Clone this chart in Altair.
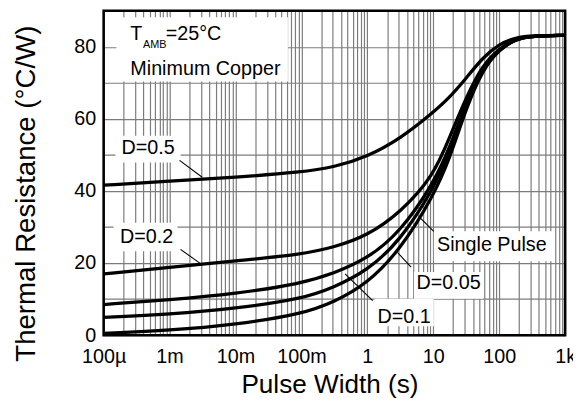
import json
import altair as alt
import pandas as pd

# ---------------- data ----------------
PULSE_WIDTH = [1e-4, 1e-3, 1e-2, 0.1, 0.316, 1, 3.16, 10, 17.8, 31.6, 56.2, 100, 178, 316, 1000]
R_D05 = [41.6, 42.7, 43.8, 45.2, 46.6, 49.5, 54.5, 61.8, 66.0, 71.3, 77.0, 80.8, 82.6, 83.1, 83.2]
R_D02 = [17.0, 18.8, 20.6, 22.4, 24.4, 27.6, 34.0, 44.0, 55.0, 66.0, 75.0, 79.6, 82.2, 83.0, 83.2]
R_D01 = [8.5, 9.8, 11.5, 14.3, 17.2, 21.2, 28.6, 42.0, 52.0, 64.5, 74.3, 79.4, 82.2, 83.0, 83.2]
R_D005 = [4.9, 5.8, 7.4, 10.0, 13.3, 17.9, 26.2, 40.5, 50.5, 63.8, 74.0, 79.3, 82.2, 83.0, 83.2]
R_SINGLE = [0.5, 1.3, 2.9, 5.8, 9.2, 14.3, 23.7, 38.5, 49.0, 63.0, 73.7, 79.2, 82.2, 83.0, 83.2]
SERIES = ["D=0.5", "D=0.2", "D=0.1", "D=0.05", "Single Pulse"]
SERIES_VALUES = [R_D05, R_D02, R_D01, R_D005, R_SINGLE]

X_DOMAIN = [1e-4, 1000]
Y_DOMAIN = [0, 90]
X_GRID = [k * 10.0 ** n for n in range(-4, 3) for k in range(1, 10)] + [1000.0]
DECADE_LABELS = ["100µ", "1m", "10m", "100m", "1", "10", "100", "1k"]
Y_GRID = list(range(0, 91, 10))

# annotation labels (data coordinates)
LABEL_TEXT = ["D=0.5", "D=0.2", "Single Pulse", "D=0.05", "D=0.1"]
LABEL_X = [4.71e-4, 4.47e-4, 77.4, 17.1, 3.62]
LABEL_Y = [51.8, 27.1, 24.9, 14.4, 5.07]
# white boxes behind the labels
BOX_X1 = [1.56e-4, 1.51e-4, 1.41e-4, 10.2, 5.12, 1.29]
BOX_X2 = [0.0624, 1.47e-3, 1.32e-3, 632, 56.9, 10.2]
BOX_Y1 = [70.4, 47.9, 23.3, 20.5, 10.1, 2.5]
BOX_Y2 = [88.2, 55.3, 31.2, 28.8, 17.5, 10.1]
# leader lines
LEAD_X1 = [1.416e-3, 1.466e-3, 10.17, 4.61, 1.205]
LEAD_X2 = [3.13e-3, 3.13e-3, 6.07, 2.85, 0.459]
LEAD_Y1 = [48.5, 23.8, 28.8, 18.9, 9.6]
LEAD_Y2 = [43.8, 19.5, 32.9, 23.0, 17.0]
# condition text
COND_TEXT = ["T", "AMB", "=25°C", "Minimum Copper"]
COND_X = [2.54e-4, 3.96e-4, 8.75e-4, 2.54e-4]
COND_Y = [81.9, 79.7, 81.9, 72.05]
COND_SIZE = [20, 11, 20, 20]

FONT = "Liberation Sans"
GRID_COLOR = "#7c7c7c"

# ---------------- tables ----------------
curves = pd.DataFrame(
    [
        {"series": s, "order": i, "x": x, "y": y}
        for s, vals in zip(SERIES, SERIES_VALUES)
        for i, (x, y) in enumerate(zip(PULSE_WIDTH, vals))
    ]
)
labels = pd.DataFrame({"text": LABEL_TEXT, "x": LABEL_X, "y": LABEL_Y})
boxes = pd.DataFrame({"x": BOX_X1, "x2": BOX_X2, "y": BOX_Y1, "y2": BOX_Y2})
leads = pd.DataFrame({"x": LEAD_X1, "x2": LEAD_X2, "y": LEAD_Y1, "y2": LEAD_Y2})
cond = pd.DataFrame({"text": COND_TEXT, "x": COND_X, "y": COND_Y, "size": COND_SIZE})
frame = pd.DataFrame({"x": [X_DOMAIN[0]], "x2": [X_DOMAIN[1]], "y": [Y_DOMAIN[0]], "y2": [Y_DOMAIN[1]]})

x_label_expr = (
    "abs(log(datum.value)/LN10 - round(log(datum.value)/LN10)) < 0.001 ? "
    + json.dumps(DECADE_LABELS, ensure_ascii=False)
    + "[round(log(datum.value)/LN10) + 4] : ''"
)

X_SCALE = alt.Scale(type="log", domain=X_DOMAIN, nice=False)
Y_SCALE = alt.Scale(domain=Y_DOMAIN, nice=False, zero=False)

COMMON_AX = dict(
    labelOverlap=False,
    ticks=False,
    domain=False,
    grid=True,
    gridColor=GRID_COLOR,
    gridWidth=1.2,
    gridOpacity=1,
    labelFont=FONT,
    titleFont=FONT,
    labelColor="black",
    titleColor="black",
    titleFontWeight="normal",
    labelFontWeight="normal",
    labelFontSize=20,
    titleAlign="center",
    titleBaseline="alphabetic",
)

X_AX = alt.Axis(
    title="Pulse Width (s)",
    values=X_GRID,
    labelExpr=x_label_expr,
    labelFlush=False,
    labelPadding=12,
    titleX=229,
    titleY=58,
    titleFontSize=26.5,
    **COMMON_AX,
)
Y_AX = alt.Axis(
    title="Thermal Resistance (°C/W)",
    values=Y_GRID,
    labelExpr="datum.value % 20 == 0 && datum.value < 90 ? datum.label : ''",
    labelPadding=8,
    titleAngle=270,
    titleX=-70,
    titleY=185,
    titleFontSize=28,
    **COMMON_AX,
)


def xy(chart):
    return chart.encode(
        x=alt.X("x:Q", scale=X_SCALE, axis=X_AX),
        y=alt.Y("y:Q", scale=Y_SCALE, axis=Y_AX),
    )


box_layer = xy(alt.Chart(boxes).mark_rect(color="white")).encode(x2="x2:Q", y2="y2:Q")

line_layer = xy(
    alt.Chart(curves).mark_line(color="black", strokeWidth=3.3, interpolate="basis")
).encode(detail="series:N", order="order:Q")

lead_layer = xy(alt.Chart(leads).mark_rule(color="black", strokeWidth=1.1)).encode(
    x2="x2:Q", y2="y2:Q"
)

label_layer = xy(
    alt.Chart(labels).mark_text(
        font=FONT, fontSize=20, color="black", align="center", baseline="middle"
    )
).encode(text="text:N")

cond_layer = xy(
    alt.Chart(cond).mark_text(font=FONT, color="black", align="left", baseline="alphabetic")
).encode(text="text:N", size=alt.Size("size:Q", scale=None, legend=None))

frame_layer = xy(
    alt.Chart(frame).mark_rect(filled=False, stroke="black", strokeWidth=2.6)
).encode(x2="x2:Q", y2="y2:Q")

chart = (
    alt.layer(box_layer, line_layer, lead_layer, label_layer, cond_layer, frame_layer)
    .properties(
        width=468,
        height=329,
        background="white",
        autosize=alt.AutoSizeParams(type="none"),
        padding={"left": 97, "top": 0, "right": 8, "bottom": 65},
    )
    .configure_view(stroke=None)
)

chart.save("out.html", embed_options={"renderer": "svg", "actions": False})
